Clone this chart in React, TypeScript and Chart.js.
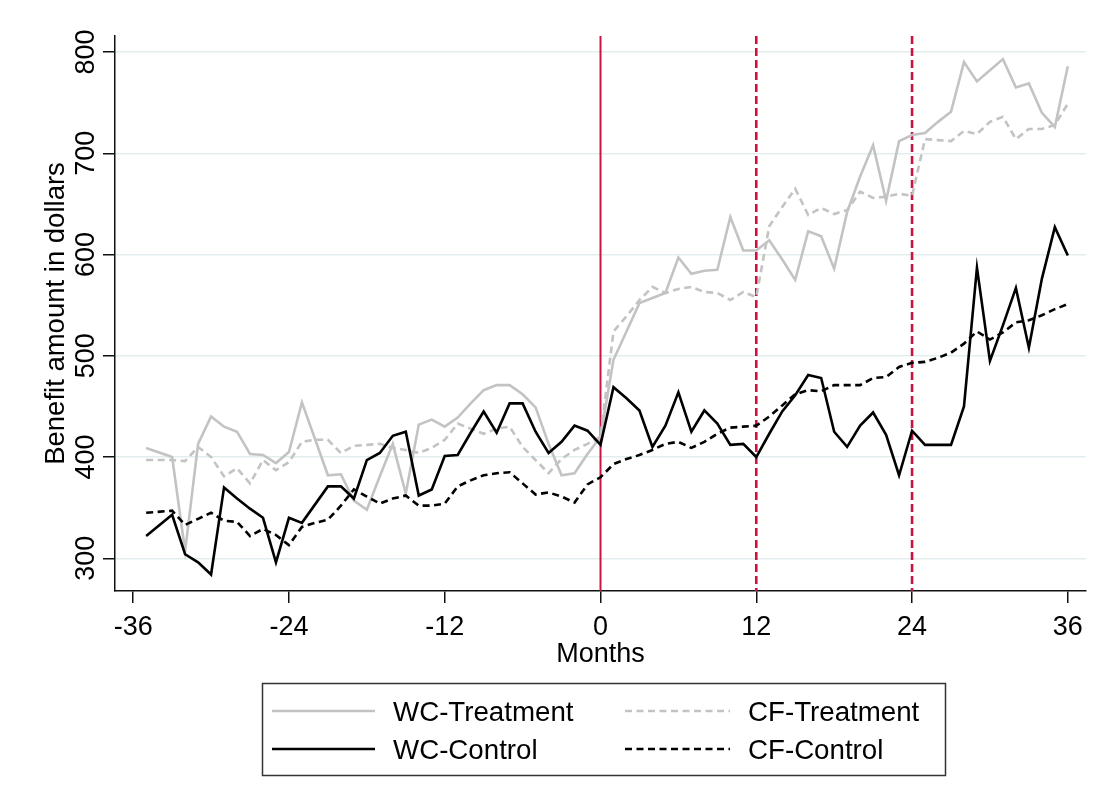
import React, { useEffect, useRef } from "react";
import { Chart, registerables } from "chart.js";

Chart.register(...registerables);

// Months relative to the reform (no observation at -34)
const months = [
  -35, -34, -33, -32, -31, -30, -29, -28, -27, -26, -25, -24,
  -23, -22, -21, -20, -19, -18, -17, -16, -15, -14, -13, -12,
  -11, -10, -9, -8, -7, -6, -5, -4, -3, -2, -1, 0,
  1, 2, 3, 4, 5, 6, 7, 8, 9, 10, 11, 12,
  13, 14, 15, 16, 17, 18, 19, 20, 21, 22, 23, 24,
  25, 26, 27, 28, 29, 30, 31, 32, 33, 34, 35, 36,
];

const wcTreatment = [
  409, null, 400, 307, 413, 440, 430, 425, 403, 402, 394, 405,
  454, 418, 382, 383, 357, 348, 381, 413, 364, 432, 437, 430,
  439, 453, 466, 471, 471, 462, 449, 413, 382, 384, 403, 420,
  496, 524, 552, 557, 562, 597, 581, 584, 585, 637, 604, 604,
  614, 595, 575, 623, 618, 586, 642, 677, 708, 653, 712, 718,
  720, 731, 741, 790, 771, 782, 793, 765, 769, 740, 726, 786,
];

const cfTreatment = [
  397, null, 397, 396, 410, 400, 381, 389, 374, 397, 387, 395,
  415, 417, 417, 404, 411, 412, 413, 409, 407, 404, 409, 417,
  433, 428, 423, 428, 430, 410, 397, 384, 398, 407, 413, 420,
  524, 539, 555, 568, 562, 566, 568, 563, 562, 555, 563, 558,
  628, 647, 665, 639, 646, 640, 644, 662, 656, 657, 660, 658,
  714, 713, 712, 722, 719, 731, 736, 714, 724, 724, 728, 749,
];

const wcControl = [
  322, null, 343, 304, 296, 284, 370, 359, 349, 340, 296, 340,
  335, 353, 371, 371, 359, 397, 404, 421, 425, 362, 368, 401,
  402, 424, 445, 424, 453, 453, 425, 404, 415, 431, 426, 412,
  469, 458, 446, 410, 431, 464, 425, 446, 433, 412, 413, 400,
  423, 445, 461, 481, 478, 425, 410, 431, 444, 422, 382, 426,
  412, 412, 412, 450, 587, 495, 530, 567, 508, 576, 627, 599,
];

const cfControl = [
  345, null, 347, 333, 339, 345, 337, 336, 322, 329, 323, 313,
  331, 335, 338, 352, 368, 361, 354, 359, 362, 352, 352, 354,
  371, 377, 382, 384, 385, 374, 363, 365, 361, 355, 373, 380,
  393, 398, 402, 407, 413, 415, 409, 415, 423, 429, 430, 431,
  440, 451, 462, 466, 465, 471, 471, 471, 478, 479, 489, 493,
  494, 498, 503, 512, 524, 516, 523, 533, 535, 540, 546, 551,
];

const xTicks = [-36, -24, -12, 0, 12, 24, 36];
const yTicks = [300, 400, 500, 600, 700, 800];
const eventMonths = [0, 12, 24];

const FONT = '"Liberation Sans", Arial, Helvetica, sans-serif';
const GREY = "#c3c3c3";
const BLACK = "#000000";
const RED = "#c9143f";
const DASH = [7, 4.5];

type Series = { label: string; data: (number | null)[]; color: string; dash: number[] };

const series: Series[] = [
  { label: "WC-Control", data: wcControl, color: BLACK, dash: [] },
  { label: "CF-Control", data: cfControl, color: BLACK, dash: DASH },
  { label: "WC-Treatment", data: wcTreatment, color: GREY, dash: [] },
  { label: "CF-Treatment", data: cfTreatment, color: GREY, dash: DASH },
];

// Legend layout: two columns, two rows inside a framed box
const legendItems = [
  { label: "WC-Treatment", color: GREY, dash: [] as number[], col: 0, row: 0 },
  { label: "CF-Treatment", color: GREY, dash: DASH, col: 1, row: 0 },
  { label: "WC-Control", color: BLACK, dash: [] as number[], col: 0, row: 1 },
  { label: "CF-Control", color: BLACK, dash: DASH, col: 1, row: 1 },
];

export default function App() {
  const ref = useRef<HTMLCanvasElement>(null);

  useEffect(() => {
    document.body.style.margin = "0";
    const canvas = ref.current!;

    const decor = {
      id: "decor",
      beforeDatasetsDraw(chart: any) {
        const { ctx, chartArea, scales } = chart;
        const x = scales.x;
        ctx.save();
        eventMonths.forEach((m, i) => {
          const px = x.getPixelForValue(m);
          ctx.beginPath();
          ctx.strokeStyle = RED;
          ctx.lineWidth = i === 0 ? 2 : 2.6;
          ctx.setLineDash(i === 0 ? [] : [8, 4]);
          ctx.moveTo(px, chartArea.top);
          ctx.lineTo(px, chartArea.bottom);
          ctx.stroke();
        });
        ctx.restore();
      },
      afterDraw(chart: any) {
        const { ctx, chartArea, scales } = chart;
        const x = scales.x;
        const y = scales.y;
        ctx.save();
        ctx.fillStyle = "#000";
        ctx.font = `27px ${FONT}`;
        ctx.textBaseline = "alphabetic";
        ctx.textAlign = "center";

        // x tick labels and title
        xTicks.forEach((v) => ctx.fillText(String(v), x.getPixelForValue(v), 635));
        ctx.fillText("Months", (chartArea.left + chartArea.right) / 2, 662);

        // y tick labels, rotated
        yTicks.forEach((v) => {
          ctx.save();
          ctx.translate(94, y.getPixelForValue(v));
          ctx.rotate(-Math.PI / 2);
          ctx.fillText(String(v), 0, 0);
          ctx.restore();
        });
        ctx.save();
        ctx.translate(64, (chartArea.top + chartArea.bottom) / 2);
        ctx.rotate(-Math.PI / 2);
        ctx.font = `27.5px ${FONT}`;
        ctx.fillText("Benefit amount in dollars", 0, 0);
        ctx.restore();

        // legend
        ctx.strokeStyle = "#333";
        ctx.lineWidth = 1.5;
        ctx.setLineDash([]);
        ctx.strokeRect(262.5, 683.5, 683, 92);
        const colLine = [
          [272, 375],
          [625, 730],
        ];
        const colText = [393, 748];
        const rowY = [711, 749];
        ctx.font = `27.7px ${FONT}`;
        legendItems.forEach((it) => {
          const yy = rowY[it.row];
          ctx.beginPath();
          ctx.strokeStyle = it.color;
          ctx.lineWidth = 2.5;
          ctx.setLineDash(it.dash);
          ctx.moveTo(colLine[it.col][0], yy);
          ctx.lineTo(colLine[it.col][1], yy);
          ctx.stroke();
          ctx.textAlign = "left";
          ctx.fillStyle = "#000";
          ctx.fillText(it.label, colText[it.col], yy + 9.5);
        });
        ctx.restore();
      },
    };

    const chart = new Chart(canvas, {
      type: "line",
      data: {
        datasets: series.map((s, i) => ({
          label: s.label,
          data: months.map((m, k) => ({ x: m, y: s.data[k] })),
          borderColor: s.color,
          backgroundColor: s.color,
          borderWidth: 2.6,
          borderDash: s.dash,
          pointRadius: 0,
          tension: 0,
          spanGaps: true,
          fill: false,
          order: i,
        })),
      },
      options: {
        responsive: false,
        animation: false,
        events: [],
        layout: { padding: { top: 36, right: 19, left: 0, bottom: 0 } },
        plugins: { legend: { display: false }, tooltip: { enabled: false } },
        scales: {
          x: {
            type: "linear",
            min: -37.4,
            max: 37.4,
            afterBuildTicks: (s: any) => {
              s.ticks = xTicks.map((v) => ({ value: v }));
            },
            afterFit: (s: any) => {
              s.height = 216;
            },
            ticks: { display: false },
            grid: {
              drawOnChartArea: false,
              drawTicks: true,
              tickLength: 12,
              tickColor: "#111",
              lineWidth: 1.5,
            },
            border: { display: true, color: "#111", width: 1.5 },
          },
          y: {
            type: "linear",
            min: 267.7,
            max: 815.8,
            afterBuildTicks: (s: any) => {
              s.ticks = yTicks.map((v) => ({ value: v }));
            },
            afterFit: (s: any) => {
              s.width = 115;
            },
            ticks: { display: false },
            grid: {
              color: "#e3edef",
              lineWidth: 1.5,
              drawTicks: true,
              tickLength: 12,
              tickColor: "#111",
            },
            border: { display: true, color: "#111", width: 1.5 },
          },
        },
      },
      plugins: [decor],
    } as any);

    return () => chart.destroy();
  }, []);

  return <canvas ref={ref} width={1105} height={807} style={{ display: "block" }} />;
}
